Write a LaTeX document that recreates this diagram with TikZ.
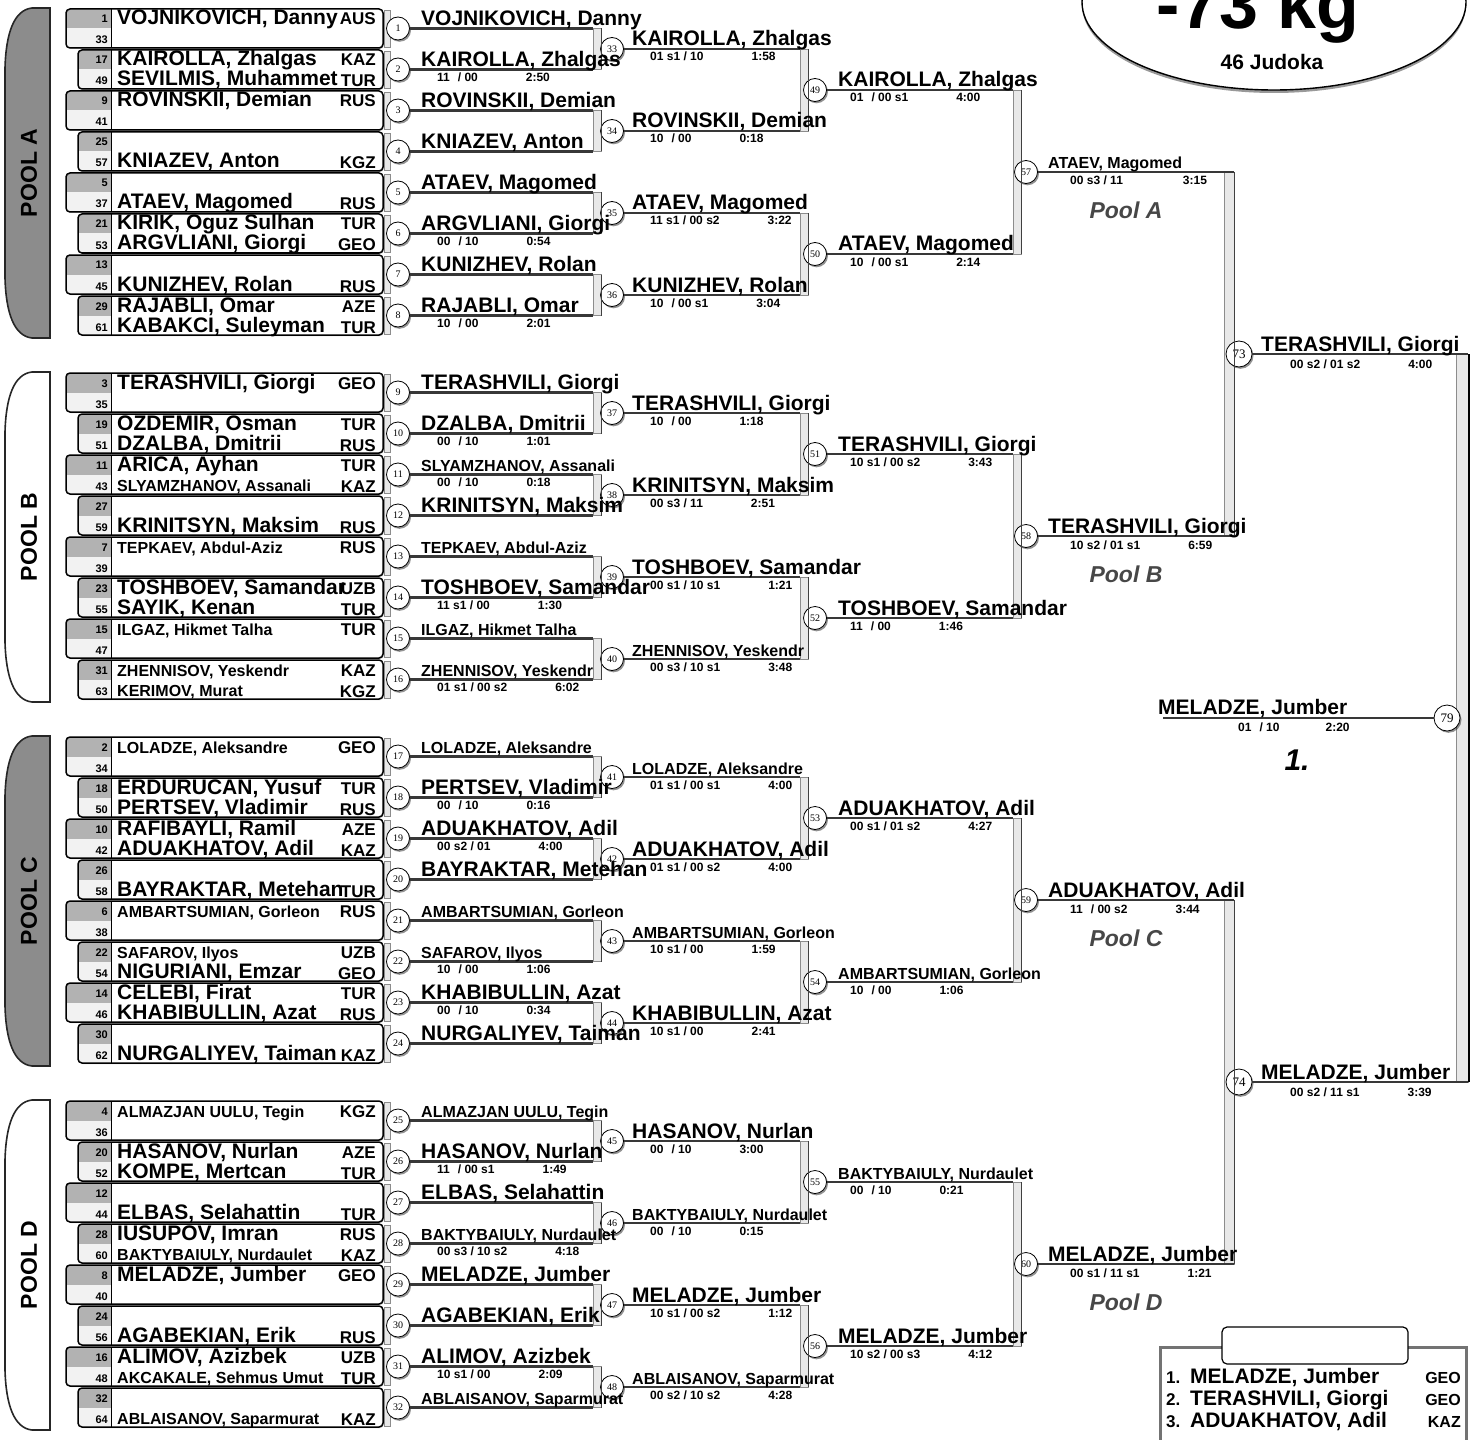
\documentclass[tikz,border=0pt]{standalone}
\usepackage{fontspec}
\setmainfont{Liberation Sans}
\newfontfamily\numfont{Liberation Serif}
\usepackage{tikz}
\usetikzlibrary{shapes,positioning,calc,backgrounds,shadows}

\definecolor{seedhi}{gray}{0.70}
\definecolor{seedlo}{gray}{0.95}
\definecolor{poolfill}{gray}{0.55}
\definecolor{stripfill}{gray}{0.91}
\definecolor{wirecol}{gray}{0.22}

\newcommand{\fsz}[1]{\fontsize{#1}{#1}\selectfont\bfseries}
\newcommand{\smn}{\fontsize{16}{16}\selectfont}
\newcommand{\score}[3][48pt]{#2\hspace{#1}#3}
\newcommand{\gp}{\hspace{8pt}}

\begin{document}
\begin{tikzpicture}[x=1pt, y=-1pt,
    pbox/.style={draw=black, line width=1.5pt, rounded corners=4pt},
    poolbar/.style={draw=black!85, line width=1.6pt},
    seednum/.style={font=\fsz{11}, anchor=base east, inner sep=0pt},
    bname/.style={font=\fsz{21}, anchor=base west, inner sep=0pt},
    ctry/.style={font=\fsz{17}, anchor=base east, inner sep=0pt},
    match/.style={circle, draw=black, line width=0.8pt, fill=white, minimum size=23pt, inner sep=0pt,
      font=\numfont\fontsize{10}{10}\selectfont,
      drop shadow={shadow xshift=1.5pt, shadow yshift=-1.8pt, fill=black!85}},
    final/.style={match, minimum size=26pt, font=\numfont\fontsize{13}{13}\selectfont},
    wname/.style={font=\fsz{21}, anchor=base west, inner sep=0pt},
    res/.style={font=\fsz{12}, anchor=base west, inner sep=0pt},
    wire/.style={draw=wirecol, line width=2.2pt},
    tie/.style={draw=black!75, line width=0.8pt},
    strip/.style={fill=stripfill, draw=black!45, line width=0.5pt},
    poollbl/.style={font=\fsz{23}\itshape, text=black!72}
]
\useasboundingbox (0,0) rectangle (1479,1439);

% Pool bars on the left
\foreach \p/\pf/\pt in {0/poolfill/A, 1/white/B, 2/poolfill/C, 3/white/D} {
  \pgfmathsetmacro\yt{8+364*\p}
  \pgfmathsetmacro\yb{338+364*\p}
  \draw[poolbar, fill=\pf] (50,\yt) -- (32,\yt) .. controls (14,\yt+2) and (6,\yt+25) .. (5,\yt+60)
    -- (5,\yb-60) .. controls (6,\yb-25) and (14,\yb-2) .. (32,\yb) -- (50,\yb) -- cycle;
  \node[font=\fsz{23}, rotate=90] (pool\pt) at (29,173+364*\p) {POOL \pt};
}

% Entry boxes with seed numbers
\foreach \p/\i/\ts/\bs in {0/0/1/33, 0/1/17/49, 0/2/9/41, 0/3/25/57, 0/4/5/37, 0/5/21/53, 0/6/13/45, 0/7/29/61,
    1/0/3/35, 1/1/19/51, 1/2/11/43, 1/3/27/59, 1/4/7/39, 1/5/23/55, 1/6/15/47, 1/7/31/63,
    2/0/2/34, 2/1/18/50, 2/2/10/42, 2/3/26/58, 2/4/6/38, 2/5/22/54, 2/6/14/46, 2/7/30/62,
    3/0/4/36, 3/1/20/52, 3/2/12/44, 3/3/28/60, 3/4/8/40, 3/5/24/56, 3/6/16/48, 3/7/32/64} {
  \pgfmathsetmacro\yt{9+364*\p+41*\i}
  \pgfmathsetmacro\yb{\yt+39}
  \pgfmathsetmacro\ym{\yt+19.5}
  \pgfmathsetmacro\xo{66+12*mod(\i,2)}
  \fill[white, rounded corners=4pt, drop shadow={shadow xshift=1pt, shadow yshift=-1pt, fill=black!50}]
    (\xo,\yt) rectangle (383,\yb);
  \begin{scope}
    \clip[rounded corners=4pt] (\xo,\yt) rectangle (383,\yb);
    \fill[seedhi] (\xo,\yt) rectangle (111,\ym);
    \fill[seedlo] (\xo,\ym) rectangle (111,\yb);
  \end{scope}
  \draw[pbox] (\xo,\yt) rectangle (383,\yb);
  \draw[black, line width=0.8pt] (111,\yt) -- (111,\yb);
  \draw[strip] (384,\yt+1) rectangle (390,\yb-1);
  \node[seednum] (s\ts) at (108,\yt+14) {\ts};
  \node[seednum] (s\bs) at (108,\yt+35) {\bs};
}

% Names in the upper half of a box
\foreach \p/\i/\nm/\cc in {0/0/{VOJNIKOVICH, Danny}/AUS, 0/1/{KAIROLLA, Zhalgas}/KAZ, 0/2/{ROVINSKII, Demian}/RUS,
    0/5/{KIRIK, Oguz Sulhan}/TUR, 0/7/{RAJABLI, Omar}/AZE,
    1/0/{TERASHVILI, Giorgi}/GEO, 1/1/{OZDEMIR, Osman}/TUR, 1/2/{ARICA, Ayhan}/TUR, 1/4/{\smn TEPKAEV, Abdul-Aziz}/RUS,
    1/5/{TOSHBOEV, Samandar}/UZB, 1/6/{\smn ILGAZ, Hikmet Talha}/TUR, 1/7/{\smn ZHENNISOV, Yeskendr}/KAZ,
    2/0/{\smn LOLADZE, Aleksandre}/GEO, 2/1/{ERDURUCAN, Yusuf}/TUR, 2/2/{RAFIBAYLI, Ramil}/AZE,
    2/4/{\smn AMBARTSUMIAN, Gorleon}/RUS, 2/5/{\smn SAFAROV, Ilyos}/UZB, 2/6/{CELEBI, Firat}/TUR,
    3/0/{\smn ALMAZJAN UULU, Tegin}/KGZ, 3/1/{HASANOV, Nurlan}/AZE, 3/3/{IUSUPOV, Imran}/RUS,
    3/4/{MELADZE, Jumber}/GEO, 3/6/{ALIMOV, Azizbek}/UZB} {
  \node[bname] (tn\p\i) at (117,25+364*\p+41*\i) {\nm};
  \node[ctry] (tc\p\i) at (376,25+364*\p+41*\i) {\cc};
}

% Names in the lower half of a box
\foreach \p/\i/\nm/\cc in {0/1/{SEVILMIS, Muhammet}/TUR, 0/3/{KNIAZEV, Anton}/KGZ, 0/4/{ATAEV, Magomed}/RUS,
    0/5/{ARGVLIANI, Giorgi}/GEO, 0/6/{KUNIZHEV, Rolan}/RUS, 0/7/{KABAKCI, Suleyman}/TUR,
    1/1/{DZALBA, Dmitrii}/RUS, 1/2/{\smn SLYAMZHANOV, Assanali}/KAZ, 1/3/{KRINITSYN, Maksim}/RUS,
    1/5/{SAYIK, Kenan}/TUR, 1/7/{\smn KERIMOV, Murat}/KGZ,
    2/1/{PERTSEV, Vladimir}/RUS, 2/2/{ADUAKHATOV, Adil}/KAZ, 2/3/{BAYRAKTAR, Metehan}/TUR,
    2/5/{NIGURIANI, Emzar}/GEO, 2/6/{KHABIBULLIN, Azat}/RUS, 2/7/{NURGALIYEV, Taiman}/KAZ,
    3/1/{KOMPE, Mertcan}/TUR, 3/2/{ELBAS, Selahattin}/TUR, 3/3/{\smn BAKTYBAIULY, Nurdaulet}/KAZ,
    3/5/{AGABEKIAN, Erik}/RUS, 3/6/{\smn AKCAKALE, Sehmus Umut}/TUR, 3/7/{\smn ABLAISANOV, Saparmurat}/KAZ} {
  \node[bname] (bn\p\i) at (117,45+364*\p+41*\i) {\nm};
  \node[ctry] (bc\p\i) at (376,46+364*\p+41*\i) {\cc};
}

% Match circles
\foreach \k in {1,...,32} {
  \pgfmathtruncatemacro\p{(\k-1)/8}
  \pgfmathtruncatemacro\i{mod(\k-1,8)}
  \node[match] (m\k) at (398,28.5+364*\p+41*\i) {\k};
}
\foreach \k in {33,...,48} {
  \pgfmathtruncatemacro\p{(\k-33)/4}
  \pgfmathtruncatemacro\i{mod(\k-33,4)}
  \node[match] (m\k) at (612,49+364*\p+82*\i) {\k};
}
\foreach \k in {49,...,56} {
  \pgfmathtruncatemacro\p{(\k-49)/2}
  \pgfmathtruncatemacro\i{mod(\k-49,2)}
  \node[match] (m\k) at (815,90+364*\p+164*\i) {\k};
}
\foreach \k in {57,...,60} {
  \pgfmathsetmacro\ym{172+364*(\k-57)}
  \node[match] (m\k) at (1026,\ym) {\k};
}
\node[final] (m73) at (1239,354) {73};
\node[final] (m74) at (1239,1082) {74};
\node[final] (m79) at (1447,718) {79};

% Brackets
\foreach \k in {33,...,60} {
  \pgfmathtruncatemacro\a{2*\k-65}
  \pgfmathtruncatemacro\b{2*\k-64}
  \pgfmathsetmacro\bx{\k<49 ? 593 : (\k<57 ? 800 : 1013)}
  \coordinate (bx) at (\bx,0);
  \coordinate (e\a) at (m\a -| bx);
  \coordinate (e\b) at (m\b -| bx);
  \begin{scope}[on background layer]
    \draw[strip] (e\a) rectangle ([xshift=8pt]e\b);
  \end{scope}
  \draw[wire] (m\a) -- (e\a);
  \draw[wire] (m\b) -- (e\b);
  \draw[tie] ([xshift=8pt]e\a) -- ([xshift=8pt]e\b);
}
\foreach \a/\b/\bx/\w in {57/58/1224/10, 59/60/1224/10, 73/74/1456/12} {
  \coordinate (bx) at (\bx,0);
  \coordinate (e\a) at (m\a -| bx);
  \coordinate (e\b) at (m\b -| bx);
  \begin{scope}[on background layer]
    \draw[strip] (e\a) rectangle ([xshift=\w pt]e\b);
  \end{scope}
  \draw[wire] (m\a) -- ([xshift=\w pt]e\a);
  \draw[wire] (m\b) -- ([xshift=\w pt]e\b);
  \draw[tie] ([xshift=\w pt]e\a) -- ([xshift=\w pt]e\b);
}
\draw[black, line width=2pt] ([xshift=13pt]e73) -- ([xshift=13pt]e74);
\coordinate (e79) at (1163,718);
\draw[wire] (m79) -- (e79);

% Winners above the lines
\foreach \k/\nm in {1/{VOJNIKOVICH, Danny}, 2/{KAIROLLA, Zhalgas}, 3/{ROVINSKII, Demian}, 4/{KNIAZEV, Anton},
    5/{ATAEV, Magomed}, 6/{ARGVLIANI, Giorgi}, 7/{KUNIZHEV, Rolan}, 8/{RAJABLI, Omar},
    9/{TERASHVILI, Giorgi}, 10/{DZALBA, Dmitrii}, 11/{\smn SLYAMZHANOV, Assanali}, 12/{KRINITSYN, Maksim},
    13/{\smn TEPKAEV, Abdul-Aziz}, 14/{TOSHBOEV, Samandar}, 15/{\smn ILGAZ, Hikmet Talha}, 16/{\smn ZHENNISOV, Yeskendr},
    17/{\smn LOLADZE, Aleksandre}, 18/{PERTSEV, Vladimir}, 19/{ADUAKHATOV, Adil}, 20/{BAYRAKTAR, Metehan},
    21/{\smn AMBARTSUMIAN, Gorleon}, 22/{\smn SAFAROV, Ilyos}, 23/{KHABIBULLIN, Azat}, 24/{NURGALIYEV, Taiman},
    25/{\smn ALMAZJAN UULU, Tegin}, 26/{HASANOV, Nurlan}, 27/{ELBAS, Selahattin}, 28/{\smn BAKTYBAIULY, Nurdaulet},
    29/{MELADZE, Jumber}, 30/{AGABEKIAN, Erik}, 31/{ALIMOV, Azizbek}, 32/{\smn ABLAISANOV, Saparmurat}}
  \node[wname] (w\k) at ($(m\k)+(23,-3)$) {\nm};
\foreach \k/\nm in {33/{KAIROLLA, Zhalgas}, 34/{ROVINSKII, Demian}, 35/{ATAEV, Magomed}, 36/{KUNIZHEV, Rolan},
    37/{TERASHVILI, Giorgi}, 38/{KRINITSYN, Maksim}, 39/{TOSHBOEV, Samandar}, 40/{\smn ZHENNISOV, Yeskendr},
    41/{\smn LOLADZE, Aleksandre}, 42/{ADUAKHATOV, Adil}, 43/{\smn AMBARTSUMIAN, Gorleon}, 44/{KHABIBULLIN, Azat},
    45/{HASANOV, Nurlan}, 46/{\smn BAKTYBAIULY, Nurdaulet}, 47/{MELADZE, Jumber}, 48/{\smn ABLAISANOV, Saparmurat}}
  \node[wname] (w\k) at ($(m\k)+(20,-3)$) {\nm};
\foreach \k/\nm in {49/{KAIROLLA, Zhalgas}, 50/{ATAEV, Magomed}, 51/{TERASHVILI, Giorgi}, 52/{TOSHBOEV, Samandar},
    53/{ADUAKHATOV, Adil}, 54/{\smn AMBARTSUMIAN, Gorleon}, 55/{\smn BAKTYBAIULY, Nurdaulet}, 56/{MELADZE, Jumber}}
  \node[wname] (w\k) at ($(m\k)+(23,-3)$) {\nm};
\foreach \k/\nm in {57/{\smn ATAEV, Magomed}, 58/{TERASHVILI, Giorgi}, 59/{ADUAKHATOV, Adil}, 60/{MELADZE, Jumber},
    73/{TERASHVILI, Giorgi}, 74/{MELADZE, Jumber}}
  \node[wname] (w\k) at ($(m\k)+(22,-3)$) {\nm};
\node[wname] (w79) at ($(m79)+(-289,-4)$) {MELADZE, Jumber};

% Scores below the lines
\foreach \k/\rs in {2/{\score{11\gp/ 00}{2:50}}, 6/{\score{00\gp/ 10}{0:54}}, 8/{\score{10\gp/ 00}{2:01}},
    10/{\score{00\gp/ 10}{1:01}}, 11/{\score{00\gp/ 10}{0:18}}, 14/{\score{11 s1 / 00}{1:30}},
    16/{\score{01 s1 / 00 s2}{6:02}}, 18/{\score{00\gp/ 10}{0:16}}, 19/{\score{00 s2 / 01}{4:00}},
    22/{\score{10\gp/ 00}{1:06}}, 23/{\score{00\gp/ 10}{0:34}}, 26/{\score{11\gp/ 00 s1}{1:49}},
    28/{\score{00 s3 / 10 s2}{4:18}}, 31/{\score{10 s1 / 00}{2:09}}}
  \node[res] (r\k) at ($(m\k)+(39,12)$) {\rs};
\foreach \k/\rs in {33/{\score{01 s1 / 10}{1:58}}, 34/{\score{10\gp/ 00}{0:18}}, 35/{\score{11 s1 / 00 s2}{3:22}},
    36/{\score{10\gp/ 00 s1}{3:04}}, 37/{\score{10\gp/ 00}{1:18}}, 38/{\score{00 s3 / 11}{2:51}},
    39/{\score{00 s1 / 10 s1}{1:21}}, 40/{\score{00 s3 / 10 s1}{3:48}}, 41/{\score{01 s1 / 00 s1}{4:00}},
    42/{\score{01 s1 / 00 s2}{4:00}}, 43/{\score{10 s1 / 00}{1:59}}, 44/{\score{10 s1 / 00}{2:41}},
    45/{\score{00\gp/ 10}{3:00}}, 46/{\score{00\gp/ 10}{0:15}}, 47/{\score{10 s1 / 00 s2}{1:12}},
    48/{\score{00 s2 / 10 s2}{4:28}}}
  \node[res] (r\k) at ($(m\k)+(38,12)$) {\rs};
\foreach \k/\rs in {49/{\score{01\gp/ 00 s1}{4:00}}, 50/{\score{10\gp/ 00 s1}{2:14}}, 51/{\score{10 s1 / 00 s2}{3:43}},
    52/{\score{11\gp/ 00}{1:46}}, 53/{\score{00 s1 / 01 s2}{4:27}}, 54/{\score{10\gp/ 00}{1:06}},
    55/{\score{00\gp/ 10}{0:21}}, 56/{\score{10 s2 / 00 s3}{4:12}}}
  \node[res] (r\k) at ($(m\k)+(35,12)$) {\rs};
\foreach \k/\rs in {57/{\score[60pt]{00 s3 / 11}{3:15}}, 58/{\score{10 s2 / 01 s1}{6:59}},
    59/{\score{11\gp/ 00 s2}{3:44}}, 60/{\score{00 s1 / 11 s1}{1:21}}}
  \node[res] (r\k) at ($(m\k)+(44,13)$) {\rs};
\foreach \k/\rs in {73/{\score{00 s2 / 01 s2}{4:00}}, 74/{\score{00 s2 / 11 s1}{3:39}}}
  \node[res] (r\k) at ($(m\k)+(51,14)$) {\rs};
\node[res] (r79) at ($(m79)+(-209,13)$) {\score[46pt]{01\gp/ 10}{2:20}};

% Pool winners
\foreach \p/\pt in {0/A, 1/B, 2/C, 3/D}
  \node[poollbl] (lbl\pt) at (1126,210+364*\p) {Pool \pt};
\node[font=\fsz{30}\itshape, anchor=base] (gold) at (1297,770) {1.};

% Title
\draw[line width=1.4pt, fill=white, drop shadow={shadow xshift=0pt, shadow yshift=-3pt, fill=black!80}]
  (1274,2) ellipse [x radius=192pt, y radius=88pt];
\node[font=\fsz{70}, anchor=base] (wcls) at (1258,29) {-73 kg};
\node[font=\fsz{21}, anchor=base] (count) at (1272,70) {46 Judoka};

% Results
\draw[line width=3pt, draw=black!55] (1160,1347) rectangle (1466,1458);
\draw[rounded corners=5pt, fill=white, line width=1.2pt] (1222,1327) rectangle (1408,1364);
\foreach \r/\nm/\cc in {1/{MELADZE, Jumber}/GEO, 2/{TERASHVILI, Giorgi}/GEO, 3/{ADUAKHATOV, Adil}/KAZ} {
  \node[font=\fsz{17}, anchor=base west, inner sep=0pt] (rk\r) at (1166,1361+22*\r) {\r.};
  \node[bname] (rn\r) at (1190,1361+22*\r) {\nm};
  \node[ctry, font=\fsz{16}] (rc\r) at (1461,1361+22*\r) {\cc};
}

\end{tikzpicture}
\end{document}
